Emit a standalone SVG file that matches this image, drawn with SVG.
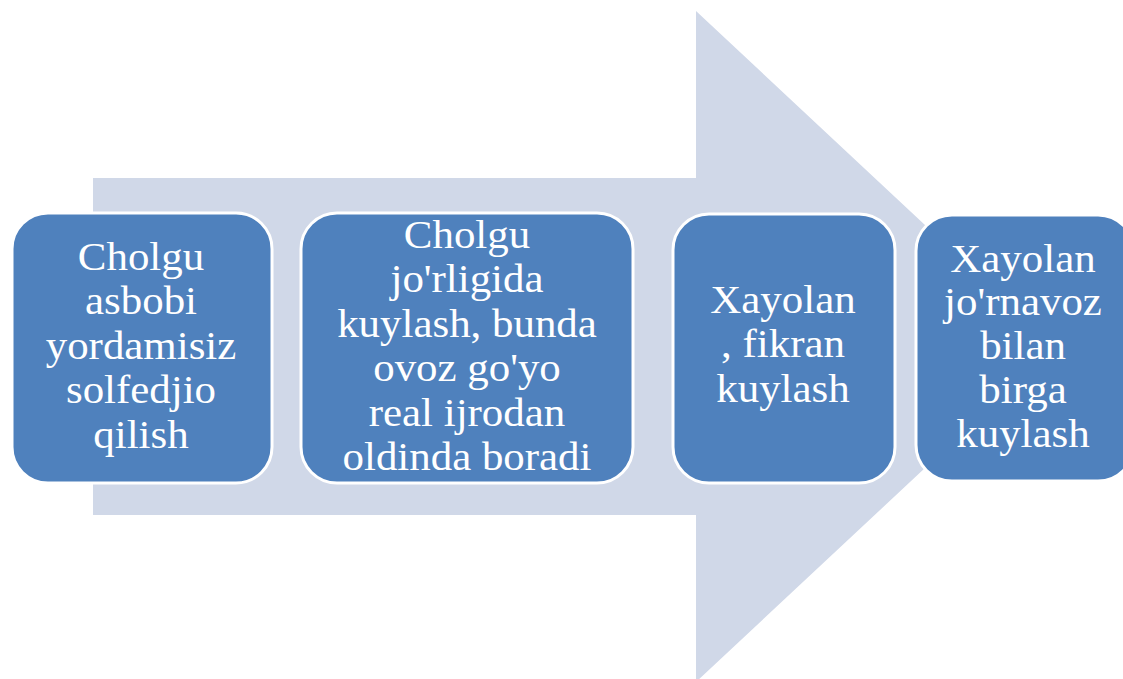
<svg xmlns="http://www.w3.org/2000/svg" width="1123" height="679" viewBox="0 0 1123 679">
<style>
.box{fill:#4F81BD;stroke:#FFFFFF;stroke-width:3}
.lbl{font-family:"Liberation Serif","Times New Roman",serif;font-size:39px;fill:#FFFFFF;text-anchor:middle}
</style>
<rect width="1123" height="679" fill="#FFFFFF"/>
<g id="connectors">
<path d="M93,178 L696,178 L696,11 L1055,346.5 L696,682 L696,515 L93,515 Z" fill="#D0D8E8"/>
</g>
<g id="node1">
<rect class="box" x="12" y="213" width="260" height="270" rx="36" ry="36"/>
<text class="lbl" transform="matrix(1.1 0 0 1 141 0)"><tspan x="0" y="270">Cholgu</tspan><tspan x="0" y="314.5">asbobi</tspan><tspan x="0" y="359">yordamisiz</tspan><tspan x="0" y="403.5">solfedjio</tspan><tspan x="0" y="448">qilish</tspan></text>
</g>
<g id="node2">
<rect class="box" x="301" y="213" width="332" height="270" rx="36" ry="36"/>
<text class="lbl" transform="matrix(1.1 0 0 1 467 0)"><tspan x="0" y="248">Cholgu</tspan><tspan x="0" y="292.5">jo'rligida</tspan><tspan x="0" y="337">kuylash, bunda</tspan><tspan x="0" y="381.5">ovoz go'yo</tspan><tspan x="0" y="426">real ijrodan</tspan><tspan x="0" y="470.5">oldinda boradi</tspan></text>
</g>
<g id="node3">
<rect class="box" x="673" y="214" width="222" height="269" rx="36" ry="36"/>
<text class="lbl" transform="matrix(1.1 0 0 1 783 0)"><tspan x="0" y="313">Xayolan</tspan><tspan x="0" y="357.5">, fikran</tspan><tspan x="0" y="402">kuylash</tspan></text>
</g>
<g id="node4">
<rect class="box" x="916" y="215" width="218" height="266" rx="36" ry="36"/>
<text class="lbl" transform="matrix(1.1 0 0 1 1023 0)"><tspan x="0" y="272">Xayolan</tspan><tspan x="0" y="315.5">jo'rnavoz</tspan><tspan x="0" y="359">bilan</tspan><tspan x="0" y="403">birga</tspan><tspan x="0" y="447">kuylash</tspan></text>
</g>
</svg>
